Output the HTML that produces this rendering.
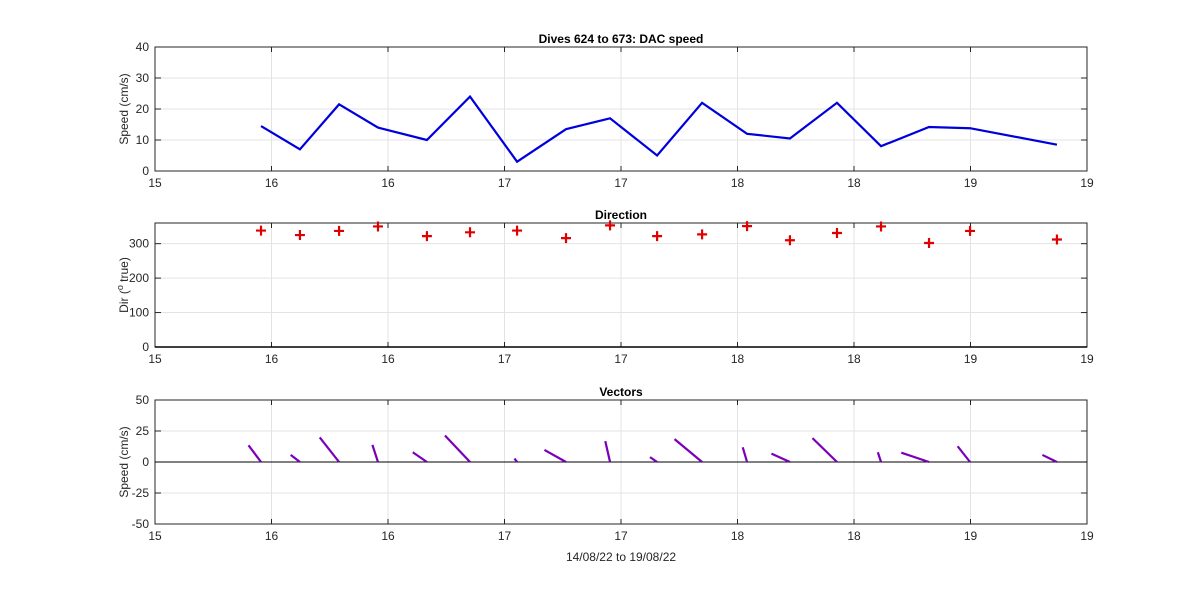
<!DOCTYPE html>
<html><head><meta charset="utf-8">
<style>
body{margin:0;background:#fff;}
svg{display:block;font-family:"Liberation Sans",Arial,sans-serif;}
</style></head>
<body>
<svg id="chart" width="1200" height="589"></svg>
<script>
const times=[15.455,15.622,15.790,15.957,16.167,16.352,16.554,16.764,16.953,17.155,17.348,17.541,17.725,17.927,18.116,18.322,18.498,18.871];
const speeds=[14.5,7,21.5,14,10,24,3,13.5,17,5,22,12,10.5,22,8,14.2,13.8,8.5];
const dirs=[338,325,337,350,322,333,338,316,353,322,327,351,310,331,350,302,337,312];
const xTicks=[15,15.5,16,16.5,17,17.5,18,18.5,19];
const xTickLabels=["15","16","16","17","17","18","18","19","19"];
const speedTicks=[0,10,20,30,40];
const dirTicks=[0,100,200,300];
const vecTicks=[-50,-25,0,25,50];

const NS="http://www.w3.org/2000/svg";
const svg=document.getElementById('chart');
const X0=155,X1=1087;
const xs=t=>X0+(t-15)/(19-15)*(X1-X0);
function mk(tag,attrs,parent){const e=document.createElementNS(NS,tag);for(const k in attrs)e.setAttribute(k,attrs[k]);(parent||svg).appendChild(e);return e;}
function txt(s,attrs,parent){const e=mk('text',attrs,parent);e.textContent=s;return e;}

function panel(name,top,bot,ymin,ymax,yt,title,ylabel){
  const g=mk('g',{});
  
  
  const ys=v=>bot-(v-ymin)/(ymax-ymin)*(bot-top);
  mk('rect',{x:X0,y:top,width:X1-X0,height:bot-top,fill:'#fff'},g);
  xTicks.forEach((t,i)=>{
    const gl=mk('line',{x1:xs(t),x2:xs(t),y1:top,y2:bot,stroke:'#e3e3e3','stroke-width':1},g);
    
    
    mk('line',{x1:xs(t),x2:xs(t),y1:bot,y2:bot-5,stroke:'#262626'},g);
    mk('line',{x1:xs(t),x2:xs(t),y1:top,y2:top+5,stroke:'#262626'},g);
    const l=txt(xTickLabels[i],{x:xs(t),y:bot+16,'font-size':12,'text-anchor':'middle',fill:'#262626'},g);
    
    
  });
  yt.forEach(v=>{
    const gl=mk('line',{x1:X0,x2:X1,y1:ys(v),y2:ys(v),stroke:'#e3e3e3'},g);
    
    
    mk('line',{x1:X0,x2:X0+6,y1:ys(v),y2:ys(v),stroke:'#262626'},g);
    mk('line',{x1:X1,x2:X1-6,y1:ys(v),y2:ys(v),stroke:'#262626'},g);
    const l=txt(String(v),{x:X0-6,y:ys(v)+4,'font-size':12,'text-anchor':'end',fill:'#262626'},g);
    
    
  });
  const fr=mk('rect',{x:X0,y:top,width:X1-X0,height:bot-top,fill:'none',stroke:'#262626','stroke-width':1},g);
  
  
  const tt=txt(title,{x:(X0+X1)/2,y:top-4,'font-size':12,'font-weight':'bold','text-anchor':'middle',fill:'#000'},g);
  
  
  const yl=mk('text',{x:0,y:0,'font-size':12,'text-anchor':'middle',fill:'#262626',transform:`translate(${X0-27},${(top+bot)/2}) rotate(-90)`},g);
  yl.innerHTML=ylabel;
  
  
  return {g,ys};
}

// Speed panel
const p1=panel('speed',47,171,0,40,speedTicks,'Dives 624 to 673: DAC speed','Speed (cm/s)');
const line=mk('polyline',{points:times.map((t,i)=>xs(t)+','+p1.ys(speeds[i])).join(' '),fill:'none',stroke:'#0000dd','stroke-width':2.2},p1.g);



// Direction panel
const p2=panel('direction',223,347,0,360,dirTicks,'Direction','Dir (<tspan baseline-shift="super" font-size="9">o</tspan> true)');
mk('line',{x1:X0,x2:X1,y1:347,y2:347,stroke:'#000','stroke-width':1.5},p2.g);
times.forEach((t,i)=>{
  const cx=xs(t),cy=p2.ys(dirs[i]);
  const m=mk('path',{d:`M${cx-5},${cy}H${cx+5}M${cx},${cy-5}V${cy+5}`,stroke:'#e00000','stroke-width':2.2},p2.g);
  
  
});

// Vectors panel
const p3=panel('vectors',400,524,-50,50,vecTicks,'Vectors','Speed (cm/s)');
mk('line',{x1:X0,x2:X1,y1:p3.ys(0),y2:p3.ys(0),stroke:'#000','stroke-width':1},p3.g);
const uScale=2.3;
times.forEach((t,i)=>{
  const r=dirs[i]*Math.PI/180;
  const u=speeds[i]*Math.sin(r), v=speeds[i]*Math.cos(r);
  const x0=xs(t),y0=p3.ys(0);
  const vl=mk('line',{x1:x0,y1:y0,x2:x0+u*uScale,y2:p3.ys(v),stroke:'#7a00b8','stroke-width':2.2},p3.g);
  
  
});
const xl=txt('14/08/22 to 19/08/22',{x:(X0+X1)/2,y:561,'font-size':12,'text-anchor':'middle',fill:'#262626'});


</script>
</body></html>
